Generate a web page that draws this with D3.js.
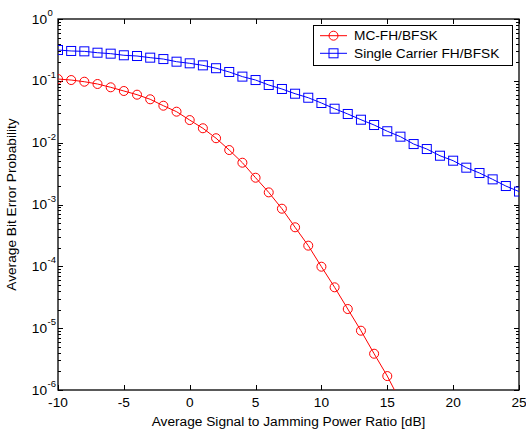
<!DOCTYPE html>
<meta charset="utf-8">
<title>MC-FH/BFSK vs Single Carrier FH/BFSK</title>
<style>
  body { margin:0; padding:0; background:#fff; }
  text { font-family: 'Liberation Sans', Arial, Helvetica, sans-serif; fill:#000; }
</style>
<body>
<div id='chart'></div>
<script src="https://cdn.jsdelivr.net/npm/d3@7"></script>
<script>

// data (SJR in dB, bit error probability)
var snrMC = [-10,-9,-8,-7,-6,-5,-4,-3,-2,-1,0,1,2,3,4,5,6,7,8,9,10,11,12,13,14,15,16];
var berMC = [0.107,0.103,0.0968,0.0889,0.0786,0.0685,0.0597,0.0503,0.0396,0.0317,
             0.0232,0.0171,0.0118,0.0076,0.00474,0.00271,0.00157,8.55e-4,4.28e-4,2.16e-4,
             9.86e-5,4.58e-5,2.04e-5,9.1e-6,3.86e-6,1.68e-6,6.5e-7];
var snrSC = [-10,-9,-8,-7,-6,-5,-4,-3,-2,-1,0,1,2,3,4,5,6,7,8,9,10,11,12,13,14,15,16,17,18,19,20,21,22,23,24,25];
var berSC = [0.315,0.304,0.300,0.285,0.275,0.259,0.252,0.237,0.225,0.204,
             0.192,0.178,0.160,0.139,0.117,0.103,0.0857,0.0738,0.0619,0.0533,
             0.0438,0.0354,0.0291,0.0235,0.0193,0.0153,0.0125,0.0095,0.00789,0.00615,
             0.00511,0.00394,0.00323,0.00255,0.00199,0.00162];
var xTicks = [-10,-5,0,5,10,15,20,25];
var yExps = [0,-1,-2,-3,-4,-5,-6];
var legendLabels = ['MC-FH/BFSK','Single Carrier FH/BFSK'];

var W = 526, H = 433,
    pL = 58, pR = 519, pT = 19, pB = 390,
    fs = "13.7px";

var svg = d3.select("#chart").append("svg")
    .attr("width", W).attr("height", H);

svg.append("rect").attr("width", W).attr("height", H).attr("fill", "#fff");

var x = d3.scaleLinear().domain([-10, 25]).range([pL, pR]);
var y = d3.scaleLog().domain([1e-6, 1]).range([pB, pT]);

svg.append("clipPath").attr("id", "plotclip")
  .append("rect").attr("x", pL).attr("y", pT)
  .attr("width", pR - pL).attr("height", pB - pT);

//ticks
var tk = svg.append("g").attr("stroke", "#000").attr("stroke-width", 1);

xTicks.forEach(function(v) {
  var px = Math.round(x(v)) + 0.5;
  tk.append("line").attr("x1", px).attr("x2", px).attr("y1", pB).attr("y2", pB - 5);
  tk.append("line").attr("x1", px).attr("x2", px).attr("y1", pT).attr("y2", pT + 5);
});

for (var e = -6; e <= 0; e++) {
  for (var m = 1; m <= 9; m++) {
    if (e == 0 && m > 1) break;
    var py = Math.round(y(m * Math.pow(10, e))) + 0.5;
    var len = (m == 1) ? 5 : 3;
    tk.append("line").attr("x1", pL).attr("x2", pL + len).attr("y1", py).attr("y2", py);
    tk.append("line").attr("x1", pR).attr("x2", pR - len).attr("y1", py).attr("y2", py);
  }
}

//frame
svg.append("rect")
  .attr("x", pL).attr("y", pT)
  .attr("width", pR - pL).attr("height", pB - pT)
  .attr("fill", "none").attr("stroke", "#000").attr("stroke-width", 1.3);

//tick labels
svg.append("g").selectAll("text").data(xTicks).enter().append("text")
  .attr("x", function(d) { return x(d); })
  .attr("y", 407)
  .attr("text-anchor", "middle")
  .style("font-size", fs)
  .text(function(d) { return d; });

var yl = svg.append("g").selectAll("g").data(yExps).enter().append("g");
yl.append("text")
  .attr("x", 47)
  .attr("y", function(d) { return y(Math.pow(10, d)) + 4.5; })
  .attr("text-anchor", "end")
  .style("font-size", fs)
  .text("10");
yl.append("text")
  .attr("x", 47.5)
  .attr("y", function(d) { return y(Math.pow(10, d)) - 3; })
  .style("font-size", "9.5px")
  .text(function(d) { return d; });

//axis titles
svg.append("text")
  .attr("x", (pL + pR) / 2)
  .attr("y", 426)
  .attr("text-anchor", "middle")
  .style("font-size", fs)
  .text("Average Signal to Jamming Power Ratio [dB]");

svg.append("text")
  .attr("transform", "translate(16," + ((pT + pB) / 2) + ") rotate(-90)")
  .attr("text-anchor", "middle")
  .style("font-size", fs)
  .text("Average Bit Error Probability");

//curves
var plot = svg.append("g").attr("clip-path", "url(#plotclip)");

function drawSeries(xs, ys, color, marker) {
  var pts = xs.map(function(v, i) { return [x(v), y(ys[i])]; });
  plot.append("path")
    .attr("d", d3.line()(pts))
    .attr("fill", "none").attr("stroke", color).attr("stroke-width", 1);
  pts.forEach(function(p) { addMarker(plot, p[0], p[1], color, marker); });
}

function addMarker(g, cx, cy, color, marker) {
  if (marker == "circle") {
    g.append("circle").attr("cx", cx).attr("cy", cy).attr("r", 4.5)
      .attr("fill", "none").attr("stroke", color).attr("stroke-width", 1);
  } else {
    g.append("rect").attr("x", cx - 4.5).attr("y", cy - 4.5)
      .attr("width", 9).attr("height", 9)
      .attr("fill", "none").attr("stroke", color).attr("stroke-width", 1);
  }
}

drawSeries(snrSC, berSC, "#0000ff", "square");
drawSeries(snrMC, berMC, "#ff0000", "circle");

//legend
var lg = svg.append("g");
lg.append("rect")
  .attr("x", 313.5).attr("y", 25.5).attr("width", 199).attr("height", 40)
  .attr("fill", "#fff").attr("stroke", "#000").attr("stroke-width", 1);

var legendColors = ["#ff0000", "#0000ff"],
    legendMarkers = ["circle", "square"],
    legendY = [35.7, 53.3];

legendLabels.forEach(function(l, i) {
  lg.append("line")
    .attr("x1", 320).attr("x2", 347).attr("y1", legendY[i]).attr("y2", legendY[i])
    .attr("stroke", legendColors[i]).attr("stroke-width", 1);
  addMarker(lg, 333.5, legendY[i], legendColors[i], legendMarkers[i]);
  lg.append("text")
    .attr("x", 354).attr("y", legendY[i] + 4.6)
    .style("font-size", fs)
    .text(l);
});

</script>
</body>
</html>
